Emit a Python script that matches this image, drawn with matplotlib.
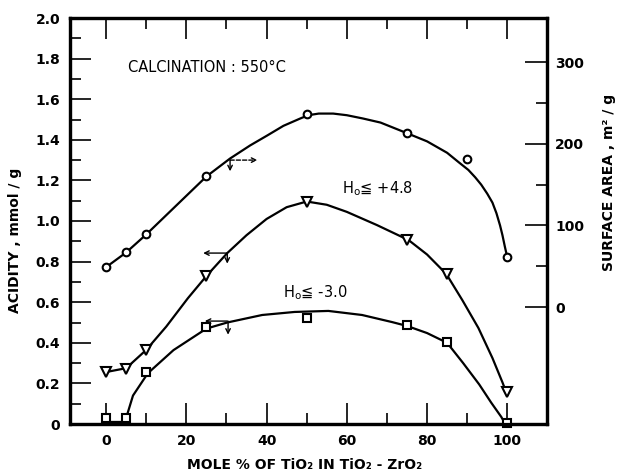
import numpy as np
import matplotlib
matplotlib.use("Agg")
import matplotlib.pyplot as plt
from matplotlib.ticker import FixedLocator, FixedFormatter

plt.rcParams['font.family'] = ['DejaVu Sans']

# ---- data ----
# surface area (m2/g, right axis), measured points
sa_x = [0, 5, 10, 25, 50, 75, 90, 100]
sa_y = [49, 67, 89, 160, 236, 213, 181, 61]
# hand drawn curve through them
sa_cx = [0, 5, 10, 25, 30.9, 35.9, 40.1, 44.2, 48.4, 50.4, 53, 56.6, 60, 64, 68.4, 75, 80, 85, 88, 90.3, 92, 93.5, 95, 96.3, 97.3, 98.2, 98.8, 99.4, 100]
sa_cy = [49, 67, 89, 160, 182, 198, 210, 222, 231, 235, 237, 237, 235, 231, 226, 213, 203, 189, 177, 168, 159, 150, 139, 128, 115, 100, 88, 74, 61]

# acidity Ho <= +4.8 (mmol/g)
a48_x = [0, 5, 10, 25, 50, 75, 85, 100]
a48_y = [0.256, 0.27, 0.365, 0.729, 1.094, 0.906, 0.739, 0.158]
a48_cx = [0, 5, 10, 15, 20.4, 25, 30.2, 35, 40, 45, 50, 55, 60, 67.5, 75.4, 80, 84.8, 88.8, 92.8, 96.3, 98.8, 100]
a48_cy = [0.256, 0.275, 0.365, 0.48, 0.62, 0.729, 0.842, 0.93, 1.01, 1.068, 1.096, 1.08, 1.045, 0.98, 0.906, 0.835, 0.739, 0.61, 0.473, 0.325, 0.205, 0.143]

# acidity Ho <= -3.0 (mmol/g)
a30_x = [0, 5, 10, 25, 50, 75, 85, 100]
a30_y = [0.03, 0.03, 0.256, 0.478, 0.522, 0.488, 0.404, 0.005]
a30_cx = [0, 4, 5, 6.7, 10.4, 16.8, 25, 30.2, 38.9, 47, 55.4, 63.8, 71.3, 75, 80, 85, 89, 93, 96, 98.5, 99.5]
a30_cy = [0.01, 0.01, 0.03, 0.14, 0.25, 0.364, 0.47, 0.50, 0.537, 0.552, 0.557, 0.537, 0.502, 0.483, 0.448, 0.40, 0.30, 0.195, 0.105, 0.035, 0.0]

x_ticks = [0, 20, 40, 60, 80, 100]
x_minor = [10, 30, 50, 70, 90]
yl_ticks = [0, 0.2, 0.4, 0.6, 0.8, 1.0, 1.2, 1.4, 1.6, 1.8, 2.0]
yl_labels = ["0", "0.2", "0.4", "0.6", "0.8", "1.0", "1.2", "1.4", "1.6", "1.8", "2.0"]
yl_minor = [0.1, 0.3, 0.5, 0.7, 0.9, 1.1, 1.3, 1.5, 1.7, 1.9]
yr_ticks = [0, 100, 200, 300]
yr_minor = [50, 150, 250]

W, H = 619, 475
fig = plt.figure(figsize=(W / 100, H / 100), dpi=100)
ax = fig.add_axes([70 / W, 1 - 424 / H, 477 / W, 406 / H])
ax2 = ax.twinx()

ax.set_xlim(-9, 109.9)
ax.set_ylim(0, 2.0)
ax2.set_ylim(-143, 354)

lw_spine = 2.3
for a in (ax, ax2):
    for s in a.spines.values():
        s.set_linewidth(lw_spine)

ax.xaxis.set_major_locator(FixedLocator(x_ticks))
ax.xaxis.set_minor_locator(FixedLocator(x_minor))
ax.yaxis.set_major_locator(FixedLocator(yl_ticks))
ax.yaxis.set_major_formatter(FixedFormatter(yl_labels))
ax.yaxis.set_minor_locator(FixedLocator(yl_minor))
ax2.yaxis.set_major_locator(FixedLocator(yr_ticks))
ax2.yaxis.set_minor_locator(FixedLocator(yr_minor))

ax.tick_params(which='major', direction='in', length=15, width=1.2, top=True, right=False, labelsize=10, pad=7)
ax.tick_params(which='minor', direction='in', length=8, width=1.2, top=True, right=False)
ax2.tick_params(which='major', direction='in', length=16, width=1.2, labelsize=10, pad=6)
ax2.tick_params(which='minor', direction='in', length=8, width=1.2)
for lab in ax.get_xticklabels() + ax.get_yticklabels() + ax2.get_yticklabels():
    lab.set_fontweight('bold')

# curves
ax.plot(a48_cx, a48_cy, color='black', lw=1.6, zorder=2, solid_joinstyle='round')
ax.plot(a30_cx, a30_cy, color='black', lw=1.6, zorder=2, solid_joinstyle='round')
ax2.plot(sa_cx, sa_cy, color='black', lw=1.6, zorder=2, solid_joinstyle='round')

# markers
ax.plot(a48_x, a48_y, ls='none', marker='v', ms=7, mfc='white', mec='black', mew=1.5, zorder=3, clip_on=False)
ax.plot(a30_x, a30_y, ls='none', marker='s', ms=5.5, mfc='white', mec='black', mew=1.5, zorder=3, clip_on=False)
ax2.plot(sa_x, sa_y, ls='none', marker='o', ms=5.5, mfc='white', mec='black', mew=1.5, zorder=3, clip_on=False)

# axis pointer arrows
arr = dict(arrowstyle='->', lw=1.0, color='black', shrinkA=0, shrinkB=0, mutation_scale=8)
arr_d = dict(arrowstyle='->', lw=1.0, color='black', shrinkA=0, shrinkB=0, mutation_scale=8, linestyle=(0, (3, 1.5)))
ax.annotate('', xy=(37.7, 1.30), xytext=(30.9, 1.30), arrowprops=arr_d)
ax.annotate('', xy=(30.9, 1.245), xytext=(30.9, 1.30), arrowprops=arr)
ax.annotate('', xy=(24.2, 0.842), xytext=(30.2, 0.842), arrowprops=arr)
ax.annotate('', xy=(30.2, 0.79), xytext=(30.2, 0.842), arrowprops=arr)
ax.annotate('', xy=(24.6, 0.507), xytext=(30.2, 0.507), arrowprops=arr)
ax.annotate('', xy=(30.4, 0.44), xytext=(30.4, 0.507), arrowprops=arr)

def fx(px):
    return px / W

def fy(py):
    return 1 - py / H

fig.text(fx(128), fy(67), "CALCINATION : 550°C", fontsize=10.5, ha='left', va='center')
fig.text(fx(342), fy(189), r"H$_{\rm o}$≦ +4.8", fontsize=10.5, ha='left', va='center')
fig.text(fx(283), fy(293), r"H$_{\rm o}$≦ -3.0", fontsize=10.5, ha='left', va='center')

fig.text(fx(15), fy(240), "ACIDITY , mmol / g", rotation=90, fontsize=10, fontweight='bold', ha='center', va='center')
fig.text(fx(609), fy(182), "SURFACE AREA , m² / g", rotation=90, fontsize=10, fontweight='bold', ha='center', va='center')
fig.text(fx(305), fy(465), "MOLE % OF TiO₂ IN TiO₂ - ZrO₂", fontsize=10, fontweight='bold', ha='center', va='center')

fig.savefig("out.png", dpi=100)
